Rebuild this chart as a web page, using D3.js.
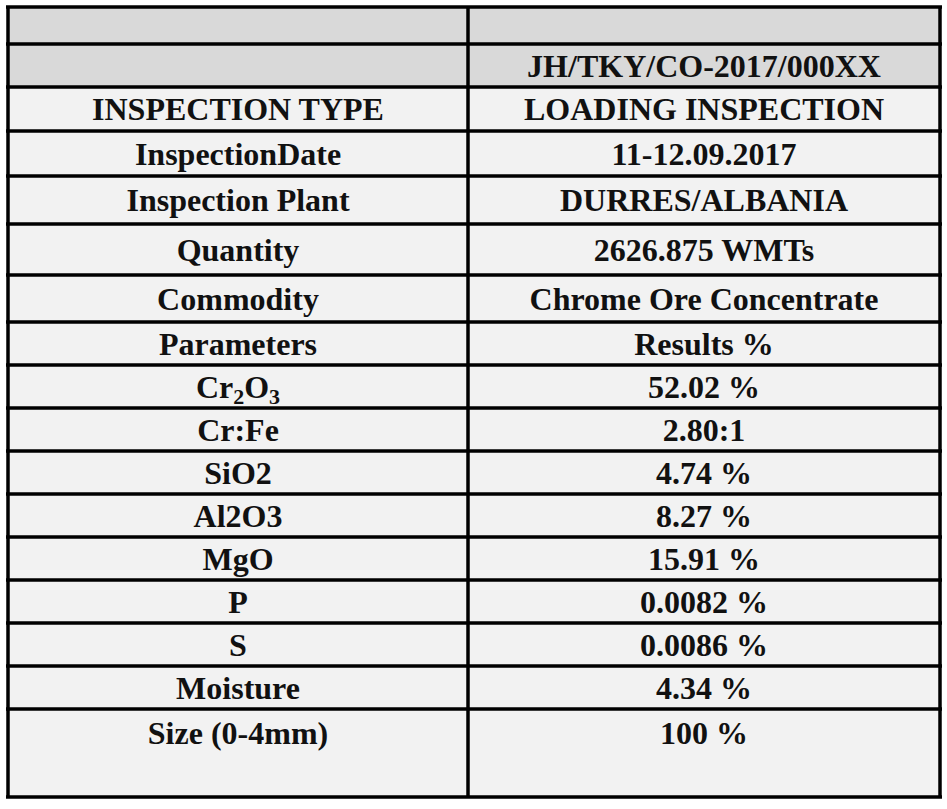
<!DOCTYPE html>
<html>
<head>
<meta charset="utf-8">
<script src="https://cdn.jsdelivr.net/npm/d3@7"></script>
<style>
  body { margin: 0; background: #fff; }
</style>
</head>
<body>
<div class="chart"></div>
<script>
const labels = ["", "", "INSPECTION TYPE", "InspectionDate", "Inspection Plant", "Quantity", "Commodity",
  "Parameters", "Cr2O3", "Cr:Fe", "SiO2", "Al2O3", "MgO", "P", "S", "Moisture", "Size (0-4mm)"]
const results = ["", "JH/TKY/CO-2017/000XX", "LOADING INSPECTION", "11-12.09.2017", "DURRES/ALBANIA",
  "2626.875 WMTs", "Chrome Ore Concentrate", "Results %", "52.02 %", "2.80:1", "4.74 %", "8.27 %",
  "15.91 %", "0.0082 %", "0.0086 %", "4.34 %", "100 %"]
// row boundaries
const rowEdges = [7, 44, 87, 131, 176, 224, 275, 322, 365, 408, 451, 494, 537, 580, 623, 666, 709, 797]

const width = 947, height = 809
const colX = [8, 468, 940]

const svg = d3.select(".chart").append("svg")
  .attr("width", width).attr("height", height)

const rows = svg.selectAll("g.row")
  .data(labels.map((l, i) => ({ label: l, result: results[i], y0: rowEdges[i], y1: rowEdges[i + 1], i })))
  .enter().append("g")

rows.each(function(d) {
  const g = d3.select(this)
  const fill = d.i < 2 ? "#d9d9d9" : "#f2f2f2"
  g.append("rect").attr("x", colX[0]).attr("y", d.y0).attr("width", colX[2] - colX[0]).attr("height", d.y1 - d.y0)
    .attr("fill", fill)
  // last row text sits near the top
  const ty = d.i === labels.length - 1 ? d.y0 + 35 : (d.y0 + d.y1) / 2 + 11
  const cells = [[d.label, (colX[0] + colX[1]) / 2], [d.result, (colX[1] + colX[2]) / 2]]
  cells.forEach(([txt, cx]) => {
    const t = g.append("text").attr("x", cx).attr("y", ty)
      .attr("text-anchor", "middle")
      .style("font-family", "Liberation Serif, Times New Roman, DejaVu Serif, serif")
      .style("font-weight", "bold").style("font-size", "32px").attr("fill", "#111")
    if (txt === "Cr2O3") {
      t.append("tspan").text("Cr")
      t.append("tspan").attr("dy", 6).style("font-size", "22px").text("2")
      t.append("tspan").attr("dy", -6).text("O")
      t.append("tspan").attr("dy", 6).style("font-size", "22px").text("3")
    } else {
      t.text(txt)
    }
  })
})

// grid lines
svg.selectAll("line.h").data(rowEdges).enter().append("line")
  .attr("x1", colX[0] - 2).attr("x2", colX[2] + 2).attr("y1", d => d).attr("y2", d => d)
  .attr("stroke", "#000").attr("stroke-width", 3.5)
svg.selectAll("line.v").data(colX).enter().append("line")
  .attr("x1", d => d).attr("x2", d => d).attr("y1", rowEdges[0]).attr("y2", rowEdges[rowEdges.length - 1])
  .attr("stroke", "#000").attr("stroke-width", 3.5)
</script>
</body>
</html>
